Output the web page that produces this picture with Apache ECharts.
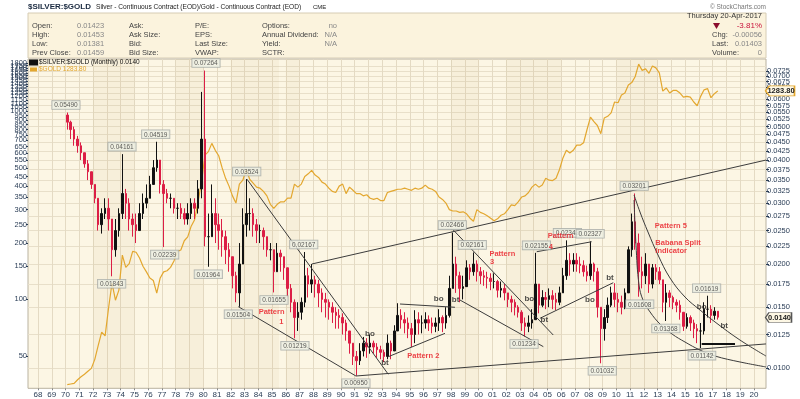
<!DOCTYPE html>
<html>
<head>
<meta charset="utf-8">
<title>$SILVER:$GOLD</title>
<script src="https://cdn.jsdelivr.net/npm/echarts@6/dist/echarts.min.js"></script>
<style>
  html, body { margin: 0; padding: 0; background: #fff; }
  #chart { width: 800px; height: 399px; }
</style>
</head>
<body>
<div id="chart"></div>
<script>
// quarterly bars, first quarter = 1970 Q1
const firstYear = 1970

// silver/gold ratio, quarterly close / low / high
const ratioClose = [
  .0515, .049, .046, .044,   .042, .039, .037, .034,   .031, .026, .028, .029,   .027, .022, .025, .028,
  .032, .030, .027, .026,    .025, .028, .030, .031,   .034, .038, .040, .034,   .032, .031, .031, .029,
  .029, .028, .027, .028,    .030, .029, .033, .046,   .024, .024, .028, .026,   .025, .024, .022, .021,
  .0185, .0165, .020, .026,  .028, .028, .026, .025,   .025, .024, .022, .022,   .019, .0215, .021, .0195,
  .017, .0155, .014, .0145,  .0155, .0185, .0175, .018, .0175, .0165, .0158, .0155, .015, .0145, .0142, .014,
  .0135, .0128, .0118, .0108, .0105, .0112, .0118, .0115, .0118, .0115, .0113, .0111, .0108, .0118, .0112, .0128,
  .0142, .0138, .0135, .013, .0125, .0138, .0135, .0135, .0138, .0135, .0132, .0135, .014, .0135, .0142, .017,
  .020, .0185, .017, .0172,  .0195, .019, .020, .019,  .0185, .0183, .0182, .0178, .0178, .0168, .017, .0165,
  .0158, .0155, .015, .0145, .0135, .0132, .0135, .0138, .0175, .0152, .016, .0158, .0162, .0158, .0155, .0165,
  .0185, .0205, .020, .0205, .020, .0198, .019, .0185,  .020, .019, .015, .013,    .014, .0152, .0165, .0158,
  .0155, .015, .0165, .022,  .0265, .023, .019, .0185, .020, .0175, .0195, .019,   .018, .0155, .0165, .016,
  .0155, .0152, .0145, .0132, .014, .0135, .013, .0128, .0128, .0148, .0148, .0142, .0146, .01403
]
const ratioLow = [
  .049, .046, .044, .042,    .040, .038, .035, .033,   .030, .025, .0245, .027,  .025, .01843, .021, .024,
  .027, .027, .025, .024,    .023, .025, .027, .029,   .031, .034, .037, .032,   .02239, .030, .029, .028,
  .027, .027, .026, .026,    .027, .027, .028, .031,   .0225, .01964, .024, .023, .022, .021, .020, .019,
  .017, .0155, .01504, .020, .024, .025, .024, .023,   .023, .022, .021, .0205,  .01655, .019, .019, .018,
  .016, .0145, .01219, .0128, .0138, .015, .016, .0165, .016, .015, .0145, .014,  .0138, .0135, .013, .013,
  .0125, .012, .011, .0102,  .0095, .0102, .0108, .0107, .011, .011, .0107, .0106, .0104, .0106, .0106, .0112,
  .0128, .013, .0126, .0122, .0115, .0118, .0125, .0126, .013, .0128, .0126, .0127, .0128, .0127, .013, .014,
  .017, .0165, .0155, .0158, .0175, .018, .0185, .0178, .0175, .0173, .017, .0168, .017, .016, .016, .0157,
  .015, .0145, .0142, .014,  .0128, .01234, .0127, .013, .0138, .0144, .015, .0148, .015, .0148, .0147, .0152,
  .0165, .018, .0185, .019,  .019, .0188, .0184, .0178, .018, .0178, .014, .01032,  .012, .0135, .015, .015,
  .0145, .0143, .0148, .0165, .021, .022, .01608, .017, .0175, .0165, .017, .018,  .0175, .0145, .01368, .015,
  .0148, .0145, .0138, .0128, .013, .0128, .0122, .0118, .01142, .0125, .014, .0135, .0138, .01381
]
const ratioHigh = [
  .0549, .052, .050, .047,   .045, .042, .040, .037,   .034, .031, .029, .031,   .031, .027, .027, .029,
  .04161, .033, .031, .028,  .028, .030, .032, .034,   .036, .040, .04519, .040,  .035, .033, .032, .031,
  .030, .030, .029, .030,    .031, .031, .035, .063,   .07264, .028, .034, .031, .028, .027, .025, .023,
  .021, .019, .023, .029,    .03524, .031, .029, .027, .026, .0255, .024, .023,  .022, .023, .022, .021,
  .019, .0175, .0158, .0155, .016, .02167, .0195, .020, .0185, .018, .017, .0165, .0158, .0155, .015, .0148,
  .0144, .0138, .0128, .0118, .0112, .0118, .0123, .0122, .0125, .012, .0118, .0116, .0113, .0125, .012, .0133,
  .0154, .0148, .0145, .014, .0135, .0147, .0145, .0142, .0145, .0142, .014, .014,  .0148, .0142, .015, .0185,
  .02466, .021, .019, .0185, .0205, .020, .02161, .0205, .0196, .0192, .019, .0188, .0188, .018, .0178, .0175,
  .0165, .0162, .0158, .0152, .0147, .014, .0142, .0148, .02155, .017, .0168, .0166, .017, .0168, .0165, .0172,
  .0195, .02342, .0215, .0215, .0215, .021, .0205, .0198, .02327, .0202, .0195, .015, .0148, .016, .0172, .0176,
  .0165, .0162, .017, .0225, .028, .03201, .0245, .021, .0215, .019, .020, .020,   .0196, .018, .0175, .0168,
  .0162, .0158, .0157, .0145, .0144, .0142, .0138, .0134, .0135, .0155, .01619, .0152, .015, .01453
]

// $GOLD, quarterly
const goldClose = [
  35.2, 35.5, 35.8, 37.4,   38.8, 40, 41.5, 43,      48, 57, 67, 64,          90, 122, 99, 112,
  172, 148, 155, 180,       178, 166, 150, 140,      130, 126, 108, 130,      140, 142, 148, 160,
  180, 183, 205, 215,       245, 265, 330, 420,      585, 610, 675, 620,      580, 500, 440, 400,
  355, 325, 410, 430,       490, 435, 415, 395,      390, 375, 355, 320,      305, 320, 330, 330,
  345, 345, 410, 395,       410, 450, 465, 485,      458, 445, 420, 410,      390, 375, 370, 400,
  410, 365, 395, 380,       365, 365, 355, 360,      345, 340, 345, 335,      335, 370, 375, 380,
  385, 385, 390, 385,       380, 390, 385, 390,      405, 390, 385, 375,      350, 340, 325, 300,
  295, 295, 290, 292,       285, 270, 260, 300,      290, 285, 278, 270,      262, 268, 280, 285,
  300, 318, 315, 330,       350, 355, 370, 395,      410, 395, 405, 440,      430, 428, 440, 490,
  565, 620, 600, 620,       660, 660, 680, 800,      930, 880, 840, 760,      920, 940, 980, 1120,
  1110, 1220, 1250, 1380,   1420, 1530, 1780, 1650,  1680, 1590, 1740, 1700,  1600, 1280, 1330, 1250,
  1290, 1290, 1250, 1190,   1200, 1190, 1120, 1070,  1200, 1300, 1320, 1180,  1240, 1283.8
]

const years = [
  1968, 1969, 1970, 1971, 1972, 1973, 1974, 1975, 1976, 1977, 1978, 1979, 1980, 1981, 1982, 1983, 1984, 1985,
  1986, 1987, 1988, 1989, 1990, 1991, 1992, 1993, 1994, 1995, 1996, 1997, 1998, 1999, 2000, 2001, 2002, 2003,
  2004, 2005, 2006, 2007, 2008, 2009, 2010, 2011, 2012, 2013, 2014, 2015, 2016, 2017, 2018, 2019, 2020
]
const ratioTicks = [
  0.0100, 0.0125, 0.0150, 0.0175, 0.0200, 0.0225, 0.0250, 0.0275, 0.0300, 0.0325, 0.0350, 0.0375, 0.0400,
  0.0425, 0.0450, 0.0475, 0.0500, 0.0525, 0.0550, 0.0575, 0.0600, 0.0625, 0.0650, 0.0675, 0.0700, 0.0725, 0.0750
]
const goldTicks = [
  50, 100, 150, 200, 250, 300, 350, 400, 450, 500, 550, 600, 650, 700, 750, 800, 850, 900, 950,
  1000, 1050, 1100, 1150, 1200, 1250, 1300, 1350, 1400, 1450, 1500, 1550, 1600, 1650, 1700, 1750, 1800, 1850
]

// annotations [year, ratio]
const highLabels = [
  [1970.03, 0.05490], [1974.10, 0.04161], [1976.55, 0.04519], [1980.20, 0.07264], [1983.16, 0.03524],
  [1987.30, 0.02167], [1998.09, 0.02466], [1999.54, 0.02161], [2004.20, 0.02155], [2006.45, 0.02342],
  [2008.10, 0.02327], [2011.30, 0.03201], [2016.56, 0.01619]
]
const lowLabels = [
  [1973.35, 0.01843], [1977.20, 0.02239], [1980.37, 0.01964], [1982.55, 0.01504], [1985.14, 0.01655],
  [1986.66, 0.01219], [1991.09, 0.00950], [2003.30, 0.01234], [2008.98, 0.01032], [2011.70, 0.01608],
  [2013.60, 0.01368], [2016.22, 0.01142]
]
const trendLines = [
  [[1987.88, 0.0200], [2020.87, 0.0400]],
  [[1991.09, 0.00948], [2020.87, 0.01174]],
  [[1983.18, 0.0352], [1993.44, 0.00959]],
  [[1982.55, 0.01505], [1991.09, 0.00948]],
  [[1994.29, 0.01532], [1998.28, 0.01499]],
  [[1993.44, 0.01078], [1997.56, 0.0126]],
  [[1998.16, 0.0251], [2005.42, 0.01246]],
  [[1998.65, 0.01573], [2004.70, 0.01153]],
  [[2004.22, 0.02171], [2008.21, 0.0232]],
  [[2004.46, 0.01393], [2009.78, 0.01766]]
]
const supportLine = [[2016.20, 0.01179], [2018.62, 0.01179]]
const curveUpper = [
  [2011.29, 0.03169], [2011.72, 0.02829], [2012.30, 0.02476], [2013.03, 0.02124], [2013.90, 0.01822],
  [2014.99, 0.01605], [2016.08, 0.01472], [2017.17, 0.01359], [2018.98, 0.01205], [2020.87, 0.01083]
]
const curveLower = [
  [2011.29, 0.03065], [2011.43, 0.0227], [2011.65, 0.01739], [2011.94, 0.01573], [2012.45, 0.01453],
  [2013.17, 0.01341], [2014.05, 0.01254], [2014.99, 0.01189], [2016.08, 0.01127], [2017.17, 0.01083],
  [2018.98, 0.01041], [2020.87, 0.01007]
]
const patternTexts = [
  [1983.99, 0.01450, 'Pattern'], [1985.48, 0.01359, '1'], [1994.78, 0.01083, 'Pattern 2'],
  [2000.75, 0.02138, 'Pattern'], [2000.79, 0.02028, '3'], [2004.99, 0.02411, 'Pattern'], [2005.05, 0.0224, '4'],
  [2012.76, 0.02577, 'Pattern 5'], [2012.80, 0.02305, 'Babana Split'], [2012.80, 0.02181, 'Indicator']
]
const signalTexts = [
  [1992.11, 0.0126, 'bo'], [1993.20, 0.01032, 'bt'], [1997.10, 0.01587, 'bo'], [1998.33, 0.01573, 'bt'],
  [2003.68, 0.01581, 'bo'], [2004.77, 0.01383, 'bt'], [2008.09, 0.01573, 'bo'], [2009.54, 0.01819, 'bt'],
  [2016.20, 0.01499, 'bo'], [2017.84, 0.01323, 'bt']
]
const shadedYears = [[1972, 1975], [1978, 1980], [1982, 1985.5], [1986, 1987], [1998, 2000], [2002, 2006], [2010, 2013]]

const lastRatio = 0.0140
const lastGold = 1283.80

const L = v => Math.log10(v)
const times = ratioClose.map((_, i) => firstYear + i * 0.25 + 0.125)
const xMin = 1967.274
const xMax = 2020.872

const candles = ratioClose.map((c, i) => [
  times[i], L(i === 0 ? 0.0540 : ratioClose[i - 1]), L(c), L(ratioLow[i]), L(ratioHigh[i])
])

const font = 'Liberation Sans, Arial, sans-serif'
const axisColor = '#2a3d56'
const silverName = '$SILVER:$GOLD (Monthly) 0.0140'
const goldName = '$GOLD 1283.80'

const chart = echarts.init(document.getElementById('chart'), null, { renderer: 'canvas' })

const headerText = (x, y, text, opts = {}) => ({
  type: 'text', x, y,
  style: Object.assign({ text, fill: '#444', fontSize: 7.5, fontFamily: font, verticalAlign: 'middle' }, opts)
})

const infoRows = [
  ['Open:', '0.01423', 'Ask:', 'P/E:', 'Options:', 'no'],
  ['High:', '0.01453', 'Ask Size:', 'EPS:', 'Annual Dividend:', 'N/A'],
  ['Low:', '0.01381', 'Bid:', 'Last Size:', 'Yield:', 'N/A'],
  ['Prev Close:', '0.01459', 'Bid Size:', 'VWAP:', 'SCTR:', '']
]
const header = [
  { type: 'rect', shape: { x: 28, y: 13, width: 738, height: 45 },
    style: { fill: '#fbf3dd', stroke: '#d6ccb4', lineWidth: 1 } },
  headerText(28, 7, '$SILVER:$GOLD', { fontSize: 8, fontWeight: 'bold', fill: '#1a2a40' }),
  headerText(96, 7, 'Silver - Continuous Contract (EOD)/Gold - Continuous Contract (EOD)', { fontSize: 6.6, fill: '#222' }),
  headerText(313, 7.5, 'CME', { fontSize: 6, fill: '#222' }),
  headerText(766, 7, '\u00a9 StockCharts.com', { fontSize: 6.5, fill: '#777', align: 'right' }),
  headerText(762, 16, 'Thursday 20-Apr-2017', { align: 'right', fill: '#333' }),
  { type: 'polygon', shape: { points: [[713, 23], [720, 23], [716.5, 29]] }, style: { fill: '#8b0d2e' } },
  headerText(762, 26, '-3.81%', { align: 'right', fill: '#c8143c', fontSize: 8 }),
  headerText(712, 35, 'Chg:', { fill: '#444' }),
  headerText(762, 35, '-0.00056', { align: 'right', fill: '#888' }),
  headerText(712, 44, 'Last:', { fill: '#444' }),
  headerText(762, 44, '0.01403', { align: 'right', fill: '#888' }),
  headerText(712, 53, 'Volume:', { fill: '#444' }),
  headerText(762, 53, '0', { align: 'right', fill: '#888' })
]
infoRows.forEach((r, i) => {
  const y = 26 + i * 9
  header.push(headerText(32, y, r[0]))
  header.push(headerText(77, y, r[1], { fill: '#888' }))
  header.push(headerText(129, y, r[2]))
  header.push(headerText(195, y, r[3]))
  header.push(headerText(262, y, r[4]))
  if (r[5]) header.push(headerText(337, y, r[5], { align: 'right', fill: '#888' }))
})

const boxLabel = {
  show: true, fontSize: 6.5, fontFamily: font, color: '#333',
  backgroundColor: '#edf0e4', borderColor: '#9da3a0', borderWidth: 0.8, padding: [1, 2, 0, 2], distance: 3,
  formatter: p => p.data[2]
}

const option = {
  animation: false,
  backgroundColor: '#fff',
  textStyle: { fontFamily: font },
  graphic: header,
  legend: {
    left: 28, top: 58, orient: 'vertical', itemGap: 0, itemWidth: 7, itemHeight: 4, padding: 1,
    textStyle: { fontSize: 6.5, fontFamily: font, padding: [0, 0, 0, -3] },
    data: [
      { name: silverName, icon: 'rect', itemStyle: { color: '#111' }, textStyle: { color: '#111' } },
      { name: goldName, icon: 'rect', itemStyle: { color: '#e3a72f' }, textStyle: { color: '#e3a72f' } }
    ]
  },
  grid: {
    left: 28, right: 34, top: 59, bottom: 10.7,
    show: true, backgroundColor: '#fcf6e4', borderColor: '#b9b2a0', borderWidth: 1
  },
  xAxis: {
    type: 'value', min: xMin, max: xMax,
    axisLine: { show: false },
    axisTick: { show: true, length: 2, customValues: years, lineStyle: { color: '#888' } },
    axisLabel: {
      customValues: years, fontSize: 8, color: axisColor, margin: 2,
      formatter: v => String(Math.round(v) % 100).padStart(2, '0')
    },
    splitLine: { show: true, lineStyle: { color: '#e4dac3', width: 1 } }
  },
  yAxis: [
    {
      type: 'value', position: 'right', min: L(0.008734), max: L(0.07846),
      axisLine: { show: false },
      axisTick: { show: true, length: 3, customValues: ratioTicks.map(L), lineStyle: { color: axisColor } },
      axisLabel: {
        customValues: ratioTicks.map(L), fontSize: 7.5, color: axisColor, margin: 1,
        formatter: v => Math.pow(10, v).toFixed(4)
      },
      splitLine: { show: true, lineStyle: { color: '#e8dfc9', width: 1 } }
    },
    {
      type: 'value', position: 'left', min: L(33.68), max: L(1895.6),
      axisLine: { show: false },
      axisTick: { show: true, length: 2, customValues: goldTicks.map(L), lineStyle: { color: axisColor } },
      axisLabel: {
        customValues: goldTicks.map(L), fontSize: 7.5, color: axisColor, margin: 1,
        formatter: v => String(Math.round(Math.pow(10, v)))
      },
      splitLine: { show: false }
    }
  ],
  series: [
    {
      type: 'line', data: [], z: 1, silent: true,
      markArea: {
        silent: true,
        itemStyle: { color: 'rgba(190, 160, 100, 0.08)' },
        data: shadedYears.map(b => [{ xAxis: b[0] }, { xAxis: b[1] }])
      }
    },
    {
      name: goldName, type: 'line', yAxisIndex: 1, z: 3,
      data: goldClose.map((g, i) => [times[i], L(g)]),
      showSymbol: false, symbol: 'none',
      lineStyle: { color: '#e3a72f', width: 1.2 },
      itemStyle: { color: '#e3a72f' },
      markPoint: {
        symbol: 'path://M0,5 L4,0 L30,0 L30,10 L4,10 Z', symbolSize: [29, 10], symbolKeepAspect: false,
        symbolOffset: [14, 0],
        itemStyle: { color: '#fdf7e4', borderColor: '#e3a72f', borderWidth: 1 },
        label: { show: true, fontSize: 7.5, fontWeight: 'bold', color: '#222', offset: [1, 0.5] },
        data: [{ coord: [xMax, L(lastGold)], value: lastGold.toFixed(2) }]
      }
    },
    {
      name: silverName, type: 'candlestick', yAxisIndex: 0, z: 4,
      encode: { x: 0, y: [1, 2, 3, 4] },
      data: candles, barWidth: 2,
      itemStyle: { color: '#111', color0: '#dc1e46', borderColor: '#111', borderColor0: '#dc1e46', borderWidth: 1 }
    },
    {
      type: 'lines', coordinateSystem: 'cartesian2d', yAxisIndex: 0, z: 5, silent: true,
      data: trendLines.map(seg => ({ coords: seg.map(p => [p[0], L(p[1])]) })),
      lineStyle: { color: '#3c3c3c', width: 1, opacity: 1 }
    },
    {
      type: 'lines', coordinateSystem: 'cartesian2d', yAxisIndex: 0, z: 5, silent: true,
      data: [{ coords: supportLine.map(p => [p[0], L(p[1])]) }],
      lineStyle: { color: '#111', width: 2, opacity: 1 }
    },
    {
      type: 'line', yAxisIndex: 0, z: 5, smooth: 0.4, symbol: 'none', silent: true,
      data: curveUpper.map(p => [p[0], L(p[1])]),
      lineStyle: { color: '#3c3c3c', width: 1 }
    },
    {
      type: 'line', yAxisIndex: 0, z: 5, smooth: 0.4, symbol: 'none', silent: true,
      data: curveLower.map(p => [p[0], L(p[1])]),
      lineStyle: { color: '#3c3c3c', width: 1 }
    },
    {
      type: 'scatter', yAxisIndex: 0, z: 6, symbolSize: 1, silent: true,
      itemStyle: { color: 'transparent' },
      data: highLabels.map(p => [p[0], L(p[1]), p[1].toFixed(5)]),
      label: Object.assign({ position: 'top' }, boxLabel)
    },
    {
      type: 'scatter', yAxisIndex: 0, z: 6, symbolSize: 1, silent: true,
      itemStyle: { color: 'transparent' },
      data: lowLabels.map(p => [p[0], L(p[1]), p[1].toFixed(5)]),
      label: Object.assign({ position: 'bottom' }, boxLabel)
    },
    {
      type: 'scatter', yAxisIndex: 0, z: 7, symbolSize: 1, silent: true,
      itemStyle: { color: 'transparent' },
      data: patternTexts.map(p => [p[0], L(p[1]), p[2]]),
      label: {
        show: true, position: 'right', distance: 0, fontSize: 7.5, fontWeight: 'bold',
        color: '#e8141e', formatter: p => p.data[2]
      }
    },
    {
      type: 'scatter', yAxisIndex: 0, z: 7, symbolSize: 1, silent: true,
      itemStyle: { color: 'transparent' },
      data: signalTexts.map(p => [p[0], L(p[1]), p[2]]),
      label: {
        show: true, position: 'inside', fontSize: 8, fontWeight: 'bold',
        color: '#222', formatter: p => p.data[2]
      }
    },
    {
      type: 'scatter', yAxisIndex: 0, z: 8, symbolSize: 0, silent: true, data: [],
      markPoint: {
        symbol: 'path://M0,5 L4,0 L30,0 L30,10 L4,10 Z', symbolSize: [26, 10], symbolKeepAspect: false,
        symbolOffset: [12.5, 0],
        itemStyle: { color: '#fdf7e4', borderColor: '#555', borderWidth: 1 },
        label: { show: true, fontSize: 7.5, fontWeight: 'bold', color: '#222', offset: [1, 0.5] },
        data: [{ coord: [xMax, L(lastRatio)], value: lastRatio.toFixed(4) }]
      }
    }
  ]
}

chart.setOption(option)
</script>
</body>
</html>
